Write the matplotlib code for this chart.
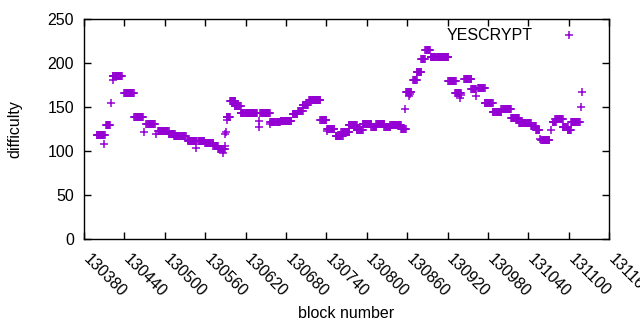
import numpy as np
import matplotlib
matplotlib.use('Agg')
import matplotlib.pyplot as plt
import matplotlib.transforms as mtransforms

plt.rcParams['font.family'] = ['Liberation Sans', 'DejaVu Sans']

# runs of blocks with the same difficulty (first block, last block, difficulty)
run_start = [130399, 130413, 130423, 130440, 130455, 130473, 130490, 130506, 130514,
             130535, 130550, 130560, 130572, 130579, 130592, 130597, 130604, 130613,
             130642, 130657, 130672, 130690, 130698, 130705, 130714, 130731, 130741,
             130754, 130762, 130773, 130785, 130794, 130807, 130814, 130826, 130835,
             130851, 130858, 130869, 130874, 130881, 130887, 130895, 130921, 130931,
             130945, 130955, 130965, 130975, 130987, 131000, 131014, 131026, 131044,
             131051, 131059, 131076, 131080, 131091, 131098, 131103]
run_end = [130411, 130419, 130436, 130454, 130468, 130485, 130506, 130515, 130531,
           130547, 130559, 130572, 130579, 130589, 130597, 130605, 130613, 130637,
           130656, 130671, 130688, 130697, 130705, 130713, 130731, 130740, 130752,
           130764, 130774, 130785, 130794, 130807, 130814, 130826, 130835, 130851,
           130858, 130866, 130874, 130881, 130886, 130894, 130921, 130932, 130940,
           130955, 130962, 130975, 130987, 131000, 131014, 131026, 131044, 131051,
           131056, 131071, 131081, 131091, 131098, 131103, 131116]
run_value = [118, 129, 185, 166, 139, 130, 123, 119, 117,
             111.5, 111.5, 109, 106, 102, 139, 157, 151, 143.5,
             143.5, 133, 134.5, 142, 145.5, 152.7, 158.3, 135.5, 125,
             116.5, 121.3, 129.3, 123.3, 130, 127.5, 131, 127.5, 129,
             125.2, 167.5, 181, 189.5, 204.7, 215, 207.4, 179, 166,
             182, 170.3, 171.5, 154.7, 144.2, 147.6, 137.2, 131.5, 128.4,
             123.6, 112.7, 132.8, 136.6, 127, 123.6, 132.8]

# single blocks standing apart
single_block = [130410, 130421, 130423, 130469, 130487, 130535, 130547, 130587, 130590,
                130589, 130591, 130593, 130640, 130640, 130656, 130694, 130741, 130857,
                130863, 130864, 130939, 130940, 130962, 131057, 131073, 131118, 131119]
single_value = [108, 154, 181, 121.3, 118.7, 112, 103, 97.4, 119.5,
                106, 121, 135, 127, 134, 131, 142, 122.5, 147.3,
                162, 165, 160, 164, 163, 113.8, 124, 150, 167]

blocks = []
diffs = []
for s, e, v in zip(run_start, run_end, run_value):
    for b in range(s, e + 1):
        blocks.append(b)
        diffs.append(v)
blocks += single_block
diffs += single_value

fig = plt.figure(figsize=(6.4, 3.3), dpi=100)
ax = fig.add_axes([0.131, 0.277, 0.821, 0.665])

ax.plot(blocks, diffs, linestyle='none', marker='+', color='#9400d3',
        markersize=5.5, markeredgewidth=1.1, label='YESCRYPT')

ax.set_xlim(130380, 131160)
ax.set_ylim(0, 250)
xt = np.arange(130380, 131161, 60)
ax.set_xticks(xt)
ax.set_xticklabels([str(t) for t in xt], rotation=-45, ha='left', va='top',
                   rotation_mode='anchor')
ax.set_yticks(np.arange(0, 251, 50))
ax.tick_params(direction='in', top=True, right=True, length=5, width=1,
               labelsize=11.5, colors='black', pad=7)
ax.tick_params(axis='x', pad=9)
# shift the slanted labels a little to the right, like gnuplot
shift = mtransforms.ScaledTranslation(5 / 72, 0, fig.dpi_scale_trans)
for lab in ax.get_xticklabels():
    lab.set_transform(lab.get_transform() + shift)
for sp in ax.spines.values():
    sp.set_linewidth(1)

ax.set_xlabel('block number', fontsize=11.5, labelpad=5)
ax.set_ylabel('difficulty', fontsize=11.5, labelpad=18)

ax.legend(loc='upper right', frameon=False, fontsize=11.5, markerfirst=False,
          handlelength=3, borderaxespad=0.3, bbox_to_anchor=(0.99, 1.01))

fig.savefig('out.png', dpi=100)
